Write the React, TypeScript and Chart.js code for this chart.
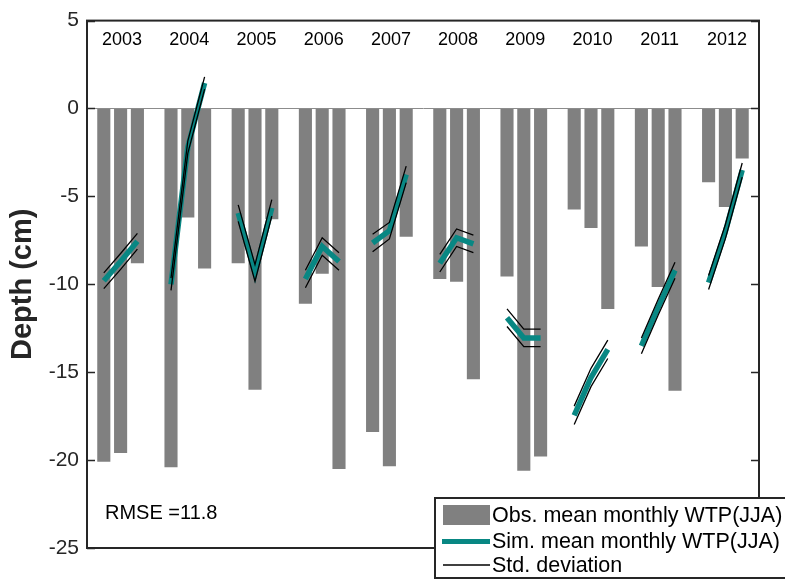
import React, { useEffect, useRef } from 'react';
import { Chart, registerables } from 'chart.js';

Chart.register(...registerables);

const FONT = '"Liberation Sans", Arial, sans-serif';

const years = ['2003', '2004', '2005', '2006', '2007', '2008', '2009', '2010', '2011', '2012'];
const months = ['Jun', 'Jul', 'Aug'];

// Observed mean monthly water table position (cm)
const obsJun = [-20.1, -20.4, -8.8, -11.1, -18.4, -9.7, -9.55, -5.75, -7.85, -4.2];
const obsJul = [-19.6, -6.2, -16.0, -9.4, -20.35, -9.85, -20.6, -6.8, -10.15, -5.6];
const obsAug = [-8.8, -9.1, -6.3, -20.5, -7.3, -15.4, -19.8, -11.4, -16.05, -2.85];

// Simulated mean monthly water table position (cm)
const simJun = [-9.8, -10.0, -5.95, -9.7, -7.65, -8.8, -11.9, -17.45, -13.5, -9.9];
const simJul = [-8.7, -2.2, -9.35, -7.85, -6.95, -7.35, -13.05, -15.3, -11.3, -7.0];
const simAug = [-7.55, 1.45, -5.65, -8.7, -3.75, -7.7, -13.05, -13.7, -9.2, -3.5];

// Standard deviation of simulation (cm)
const sdJun = [0.45, 0.35, 0.47, 0.5, 0.5, 0.5, 0.5, 0.52, 0.45, 0.4];
const sdJul = [0.45, 0.35, 0.47, 0.5, 0.47, 0.5, 0.5, 0.52, 0.45, 0.4];
const sdAug = [0.45, 0.35, 0.47, 0.5, 0.47, 0.5, 0.5, 0.52, 0.45, 0.4];

const yTitle = 'Depth (cm)';
const rmseLabel = 'RMSE =11.8';
const legendLabels = ['Obs. mean monthly WTP(JJA)', 'Sim. mean monthly WTP(JJA)', 'Std. deviation'];

const OBS_COLOR = '#808080';
const SIM_COLOR = '#088783';
const STD_COLOR = '#000000';
const AXIS_COLOR = '#262626';

// Build slot-based series: a spacer slot precedes each year and follows the last
const labels: string[] = ['gap0'];
const obsData: (number | null)[] = [null];
const simData: (number | null)[] = [null];
const upData: (number | null)[] = [null];
const loData: (number | null)[] = [null];
years.forEach((yr, i) => {
  const o = [obsJun[i], obsJul[i], obsAug[i]];
  const s = [simJun[i], simJul[i], simAug[i]];
  const d = [sdJun[i], sdJul[i], sdAug[i]];
  for (let j = 0; j < 3; j++) {
    labels.push(`${yr}-${months[j]}`);
    obsData.push(o[j]);
    simData.push(s[j]);
    upData.push(s[j] + d[j]);
    loData.push(s[j] - d[j]);
  }
  labels.push(`gap${i + 1}`);
  obsData.push(null);
  simData.push(null);
  upData.push(null);
  loData.push(null);
});

const decorPlugin = {
  id: 'decor',
  afterDraw(chart: any) {
    const { ctx, chartArea, scales } = chart;
    const { left, right, top, bottom } = chartArea;
    const x = scales.x;
    const y = scales.y;
    ctx.save();

    // frame
    ctx.strokeStyle = AXIS_COLOR;
    ctx.lineWidth = 2;
    ctx.strokeRect(left, top, right - left, bottom - top);

    // inner tick marks on both sides
    ctx.lineWidth = 1.5;
    y.ticks.forEach((t: any) => {
      const py = Math.round(y.getPixelForValue(t.value)) + 0.5;
      ctx.beginPath();
      ctx.moveTo(left, py);
      ctx.lineTo(left + 8, py);
      ctx.moveTo(right - 8, py);
      ctx.lineTo(right, py);
      ctx.stroke();
    });

    // year labels
    ctx.fillStyle = '#000';
    ctx.font = `18px ${FONT}`;
    ctx.textAlign = 'center';
    ctx.textBaseline = 'middle';
    years.forEach((yr) => {
      const idx = labels.indexOf(`${yr}-${months[1]}`);
      ctx.fillText(yr, x.getPixelForValue(idx) + 1.5, top + 19);
    });

    // RMSE annotation
    ctx.font = `20px ${FONT}`;
    ctx.textAlign = 'left';
    ctx.fillText(rmseLabel, left + 18, bottom - 35);

    // legend box
    const lx = right - 324;
    const ly = bottom - 50;
    ctx.fillStyle = '#fff';
    ctx.fillRect(lx, ly, chart.width - lx + 10, 80);
    ctx.strokeStyle = AXIS_COLOR;
    ctx.lineWidth = 2;
    ctx.strokeRect(lx, ly, chart.width - lx + 10, 80);

    const sx0 = lx + 8;
    const sx1 = lx + 55;
    const rows = [ly + 17, ly + 43.5, ly + 67];
    ctx.fillStyle = OBS_COLOR;
    ctx.fillRect(sx0, rows[0] - 10, sx1 - sx0, 20);
    ctx.strokeStyle = SIM_COLOR;
    ctx.lineWidth = 5;
    ctx.beginPath();
    ctx.moveTo(sx0 - 1, rows[1]);
    ctx.lineTo(sx1, rows[1]);
    ctx.stroke();
    ctx.strokeStyle = STD_COLOR;
    ctx.lineWidth = 1.3;
    ctx.beginPath();
    ctx.moveTo(sx0, rows[2]);
    ctx.lineTo(sx1, rows[2]);
    ctx.stroke();

    ctx.fillStyle = '#000';
    ctx.font = `21.5px ${FONT}`;
    ctx.textAlign = 'left';
    ctx.textBaseline = 'middle';
    legendLabels.forEach((t, i) => ctx.fillText(t, sx1 + 2, rows[i] + 1));

    ctx.restore();
  },
};

export default function App() {
  const canvasRef = useRef<HTMLCanvasElement | null>(null);

  useEffect(() => {
    if (!canvasRef.current) return;
    const chart = new Chart(canvasRef.current, {
      type: 'bar',
      data: {
        labels,
        datasets: [
          {
            type: 'line',
            label: 'Std upper',
            data: upData,
            borderColor: STD_COLOR,
            borderWidth: 1.3,
            pointRadius: 0,
            spanGaps: false,
            order: 0,
          } as any,
          {
            type: 'line',
            label: 'Std lower',
            data: loData,
            borderColor: STD_COLOR,
            borderWidth: 1.3,
            pointRadius: 0,
            spanGaps: false,
            order: 0,
          } as any,
          {
            type: 'line',
            label: legendLabels[1],
            data: simData,
            borderColor: SIM_COLOR,
            borderWidth: 5.5,
            pointRadius: 0,
            spanGaps: false,
            borderCapStyle: 'butt',
            order: 1,
          } as any,
          {
            type: 'bar',
            label: legendLabels[0],
            data: obsData,
            backgroundColor: OBS_COLOR,
            barPercentage: 0.78,
            categoryPercentage: 1,
            order: 3,
          } as any,
        ],
      },
      options: {
        animation: false,
        responsive: true,
        maintainAspectRatio: false,
        layout: { padding: { left: 0, top: 18, right: 26, bottom: 32 } },
        plugins: {
          legend: { display: false },
          tooltip: { enabled: false },
        },
        scales: {
          x: {
            type: 'category',
            display: false,
            offset: false,
            grid: { display: false },
          },
          y: {
            min: -25,
            max: 5,
            ticks: {
              stepSize: 5,
              color: AXIS_COLOR,
              font: { family: FONT, size: 21 },
              padding: 8,
            },
            grid: {
              drawTicks: false,
              lineWidth: 1,
              color: (c: any) => (c.tick && c.tick.value === 0 ? '#8c8c8c' : 'rgba(0,0,0,0)'),
            },
            border: { display: true, color: AXIS_COLOR, width: 2 },
            title: {
              display: true,
              text: yTitle,
              color: AXIS_COLOR,
              font: { family: FONT, size: 29, weight: 'bold' },
              padding: { top: 6, bottom: 0 },
            },
            afterFit: (s: any) => {
              s.width = 87;
            },
          },
        },
      } as any,
      plugins: [decorPlugin],
    });
    return () => chart.destroy();
  }, []);

  return (
    <div style={{ position: 'fixed', left: 0, top: 0, width: 785, height: 580, background: '#fff' }}>
      <canvas ref={canvasRef} />
    </div>
  );
}
